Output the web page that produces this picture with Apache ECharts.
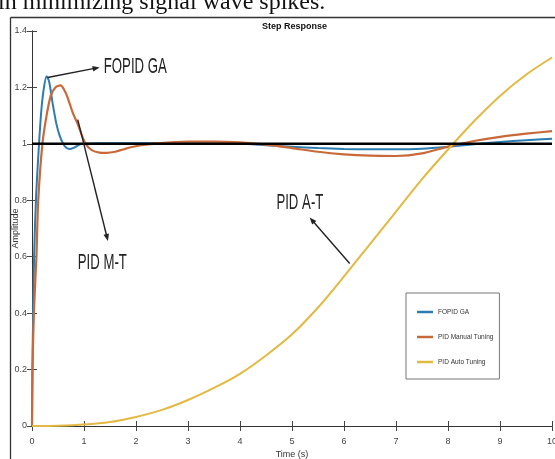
<!DOCTYPE html>
<html>
<head>
<meta charset="utf-8">
<script src="https://cdn.jsdelivr.net/npm/echarts@6/dist/echarts.min.js"></script>
<style>
  html, body { margin: 0; padding: 0; background: #fff; }
  #chart { width: 555px; height: 459px; }
</style>
</head>
<body>
<div id="chart"></div>
<script>
// step response samples
var tGA = [0, 0.015, 0.04, 0.08, 0.135, 0.18, 0.23, 0.28, 0.33, 0.4, 0.47, 0.53, 0.6, 0.66, 0.725, 0.8, 0.95, 1.3, 2, 3, 4, 4.5, 5, 5.5, 6, 6.5, 7, 7.5, 8, 8.5, 9, 9.5, 10];
var yGA = [0, 0.3, 0.6, 0.82, 1.0, 1.12, 1.2, 1.24, 1.22, 1.14, 1.07, 1.03, 1.0, 0.986, 0.982, 0.986, 1.0, 1.002, 1.002, 1.002, 1.0, 0.995, 0.99, 0.985, 0.982, 0.981, 0.981, 0.983, 0.99, 0.999, 1.007, 1.013, 1.018];

var tMT = [0, 0.008, 0.04, 0.085, 0.12, 0.2, 0.28, 0.36, 0.45, 0.55, 0.65, 0.72, 0.79, 0.88, 0.96, 1.03, 1.15, 1.3, 1.44, 1.6, 1.75, 1.9, 2.1, 2.4, 3, 3.5, 4, 4.5, 5, 5.5, 6, 6.5, 7, 7.5, 8, 8.5, 9, 9.5, 10];
var yMT = [0, 0.2, 0.42, 0.6, 0.8, 1.0, 1.1, 1.17, 1.2, 1.207, 1.18, 1.145, 1.107, 1.07, 1.03, 1.0, 0.978, 0.969, 0.968, 0.972, 0.98, 0.988, 0.995, 1.002, 1.008, 1.008, 1.005, 0.997, 0.985, 0.972, 0.963, 0.958, 0.957, 0.966, 0.99, 1.01, 1.025, 1.036, 1.045];

var tAT = [0, 0.5, 1, 1.5, 2, 2.5, 3, 3.5, 4, 4.5, 5, 5.5, 6, 6.5, 7, 7.5, 8, 8.5, 9, 9.5, 10];
var yAT = [0, 0.001, 0.005, 0.014, 0.032, 0.057, 0.092, 0.135, 0.185, 0.25, 0.325, 0.42, 0.53, 0.645, 0.76, 0.875, 0.98, 1.08, 1.17, 1.245, 1.306];

var tRef = [0, 10];
var yRef = [1, 1];

var seriesNames = ['FOPID GA', 'PID Manual Tuning', 'PID Auto Tuning'];

function pairs(t, y) {
  return t.map(function(v, i) {
    return [v, y[i]];
  });
}

var sans = '"Liberation Sans", Arial, sans-serif';
var chart = echarts.init(document.getElementById('chart'));

var axisCommon = {
  type: 'value',
  axisLine: { show: true, lineStyle: { color: '#333', width: 1 } },
  axisTick: { show: true, inside: true, length: 5, lineStyle: { color: '#444' } },
  splitLine: { show: false },
};

var option = {
  animation: false,
  backgroundColor: '#fff',
  title: {
    text: 'Step Response',
    left: 257,
    top: 17,
    textStyle: { fontSize: 9, fontWeight: 'bold', fontFamily: sans, color: '#111' },
  },
  grid: { left: 32, right: 3, top: 31, bottom: 33, containLabel: false, outerBoundsMode: 'none' },
  legend: {
    data: seriesNames,
    orient: 'vertical',
    left: 406,
    top: 293,
    padding: [14, 6, 12, 11],
    itemGap: 15,
    itemWidth: 16,
    itemHeight: 2.5,
    icon: 'rect',
    backgroundColor: '#fff',
    borderColor: '#777',
    borderWidth: 1,
    textStyle: { fontSize: 6.5, fontFamily: sans, color: '#333', lineHeight: 10 },
  },
  xAxis: [
    Object.assign({}, axisCommon, {
      min: 0,
      max: 10,
      interval: 1,
      name: 'Time (s)',
      nameLocation: 'middle',
      nameGap: 24,
      nameMoveOverlap: false,
      nameTextStyle: { fontSize: 9, fontFamily: sans, color: '#333' },
      axisLabel: { margin: 11, fontSize: 9, fontFamily: sans, color: '#444' },
    }),
    Object.assign({}, axisCommon, {
      position: 'top',
      min: 0,
      max: 10,
      interval: 1,
      axisLabel: { show: false },
    }),
  ],
  yAxis: [
    Object.assign({}, axisCommon, {
      min: 0,
      max: 1.4,
      interval: 0.2,
      name: 'Amplitude',
      nameLocation: 'middle',
      nameGap: 12,
      nameMoveOverlap: false,
      nameTextStyle: { fontSize: 9, fontFamily: sans, color: '#333' },
      axisLabel: { margin: 5, fontSize: 9, fontFamily: sans, color: '#444' },
    }),
    Object.assign({}, axisCommon, {
      position: 'right',
      min: 0,
      max: 1.4,
      interval: 0.2,
      axisLabel: { show: false },
    }),
  ],
  series: [
    {
      name: seriesNames[0],
      type: 'line',
      data: pairs(tGA, yGA),
      showSymbol: false,
      smooth: 0.25,
      lineStyle: { width: 2, color: '#2b7cb0' },
      itemStyle: { color: '#2b7cb0' },
      z: 3,
    },
    {
      name: seriesNames[1],
      type: 'line',
      data: pairs(tMT, yMT),
      showSymbol: false,
      smooth: 0.25,
      lineStyle: { width: 2.2, color: '#c9693a' },
      itemStyle: { color: '#c9693a' },
      z: 3,
    },
    {
      name: seriesNames[2],
      type: 'line',
      data: pairs(tAT, yAT),
      showSymbol: false,
      smooth: 0.3,
      lineStyle: { width: 2, color: '#e2b942' },
      itemStyle: { color: '#e2b942' },
      z: 3,
    },
    {
      name: 'Reference',
      type: 'line',
      data: pairs(tRef, yRef),
      showSymbol: false,
      silent: true,
      lineStyle: { width: 2.5, color: '#000' },
      z: 5,
    },
  ],
};

chart.setOption(option);

// annotation arrows, placed in data coordinates
var notes = [
  { text: 'FOPID GA', tail: [0.3, 1.235], head: [1.3, 1.271], at: [1.38, 1.272] },
  { text: 'PID M-T', tail: [0.88, 1.086], head: [1.46, 0.656], at: [0.88, 0.578] },
  { text: 'PID A-T', tail: [6.11, 0.576], head: [5.34, 0.739], at: [4.7, 0.789] },
];

var graphics = [
  // page text cut off above the figure
  {
    type: 'text',
    x: -2,
    y: 3,
    style: {
      text: 'in minimizing signal wave spikes.',
      fontSize: 24,
      fontFamily: '"Liberation Serif", "Times New Roman", serif',
      fill: '#111',
      verticalAlign: 'middle',
    },
  },
  { type: 'line', shape: { x1: 10.5, y1: 17.5, x2: 555, y2: 17.5 }, style: { stroke: '#333', lineWidth: 1.3 } },
  { type: 'line', shape: { x1: 10.5, y1: 17.5, x2: 10.5, y2: 459 }, style: { stroke: '#333', lineWidth: 1.3 } },
];

notes.forEach(function(n) {
  var p0 = chart.convertToPixel({ xAxisIndex: 0, yAxisIndex: 0 }, n.tail);
  var p1 = chart.convertToPixel({ xAxisIndex: 0, yAxisIndex: 0 }, n.head);
  var pt = chart.convertToPixel({ xAxisIndex: 0, yAxisIndex: 0 }, n.at);
  var dx = p1[0] - p0[0], dy = p1[1] - p0[1];
  var len = Math.sqrt(dx * dx + dy * dy);
  var ux = dx / len, uy = dy / len;
  var L = 7, W = 2.8;
  graphics.push({
    type: 'line',
    shape: { x1: p0[0], y1: p0[1], x2: p1[0] - ux * 4, y2: p1[1] - uy * 4 },
    style: { stroke: '#222', lineWidth: 1.4 },
    z: 10,
  });
  graphics.push({
    type: 'polygon',
    shape: {
      points: [
        [p1[0], p1[1]],
        [p1[0] - ux * L - uy * W, p1[1] - uy * L + ux * W],
        [p1[0] - ux * L + uy * W, p1[1] - uy * L - ux * W],
      ],
    },
    style: { fill: '#222' },
    z: 10,
  });
  graphics.push({
    type: 'text',
    x: pt[0],
    y: pt[1],
    scaleX: 0.6,
    style: {
      text: n.text,
      fontSize: 22,
      fontFamily: sans,
      fill: '#222',
      align: 'left',
      verticalAlign: 'middle',
    },
    z: 10,
  });
});

chart.setOption({ graphic: graphics });
</script>
</body>
</html>
